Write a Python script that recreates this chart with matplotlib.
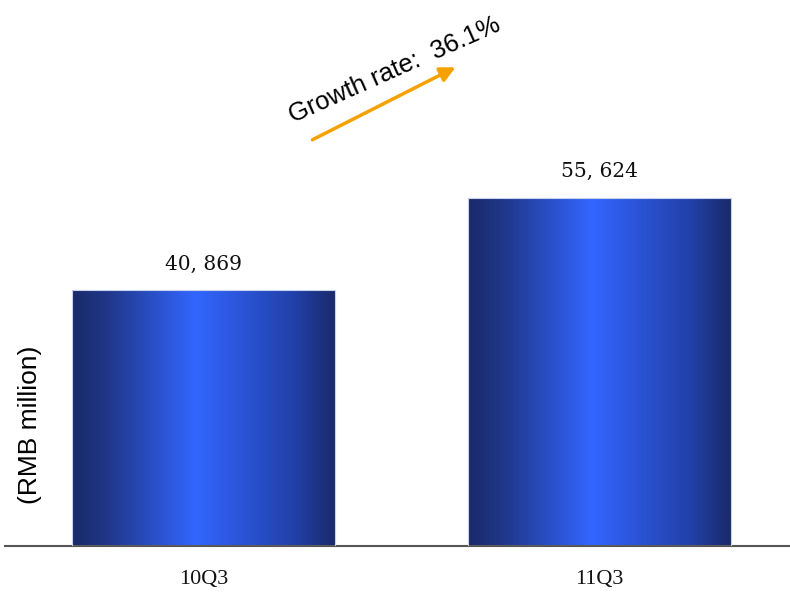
import numpy as np
import matplotlib.pyplot as plt
from matplotlib.colors import LinearSegmentedColormap
from matplotlib.patches import Rectangle

# data
quarters = ["10Q3", "11Q3"]
revenue = [40869, 55624]
growth_label = "Growth rate:  36.1%"

# dark navy at the sides, bright blue just left of centre
bar_cmap = LinearSegmentedColormap.from_list(
    "bar_shade",
    [(0.0, "#1a2b6a"), (0.12, "#1f3585"), (0.47, "#3366ff"),
     (0.85, "#2140a8"), (1.0, "#1a2b6a")])

fig = plt.figure(figsize=(7.9, 5.94), dpi=100)
ax = fig.add_axes([5 / 790, 48 / 594, 785 / 790, 546 / 594])

x = np.arange(len(quarters))
width = 0.664
bars = ax.bar(x, revenue, width=width, color="none", edgecolor="none")

shade = np.linspace(0, 1, 256).reshape(1, -1)
for b, v in zip(bars, revenue):
    x0, y0 = b.get_x(), b.get_y()
    w, h = b.get_width(), b.get_height()
    im = ax.imshow(shade, cmap=bar_cmap, aspect="auto",
                   extent=[x0, x0 + w, y0, y0 + h], zorder=2)
    clip = Rectangle((x0, y0), w, h, transform=ax.transData)
    im.set_clip_path(clip)
    ax.add_patch(Rectangle((x0, y0), w, h, fill=False,
                           edgecolor="#c8d2ee", lw=0.8, zorder=3))
    ax.text(x0 + w / 2, y0 + h + 2600, f"{v:,}".replace(",", ", "),
            ha="center", va="bottom", fontsize=14.5, family="DejaVu Serif",
            color="#111111")

ax.set_xlim(-0.501, 1.481)
ax.set_ylim(0, 87160)

for s in ["top", "right", "left"]:
    ax.spines[s].set_visible(False)
ax.spines["bottom"].set_color("#555555")
ax.spines["bottom"].set_linewidth(1.5)
ax.set_yticks([])
ax.set_xticks(x)
ax.set_xticklabels(quarters, family="Liberation Serif", fontsize=16,
                   color="#111111")
ax.tick_params(axis="x", length=0, pad=17)

fig.text(30 / 790, 1 - 425 / 594, "(RMB million)", rotation=90,
         ha="center", va="center", fontsize=19, family="Liberation Sans")

# growth arrow and label
ax.annotate("", xy=(458 / 790, 1 - 66 / 594), xycoords="figure fraction",
            xytext=(310 / 790, 1 - 141 / 594), textcoords="figure fraction",
            arrowprops=dict(arrowstyle="-|>,head_length=0.9,head_width=0.45",
                            color="#f5a200", lw=2.5))
fig.text(395 / 790, 1 - 70 / 594, growth_label, rotation=24,
         rotation_mode="anchor", ha="center", va="center", fontsize=18.5,
         family="Liberation Sans")

fig.savefig("out.png", dpi=100)
